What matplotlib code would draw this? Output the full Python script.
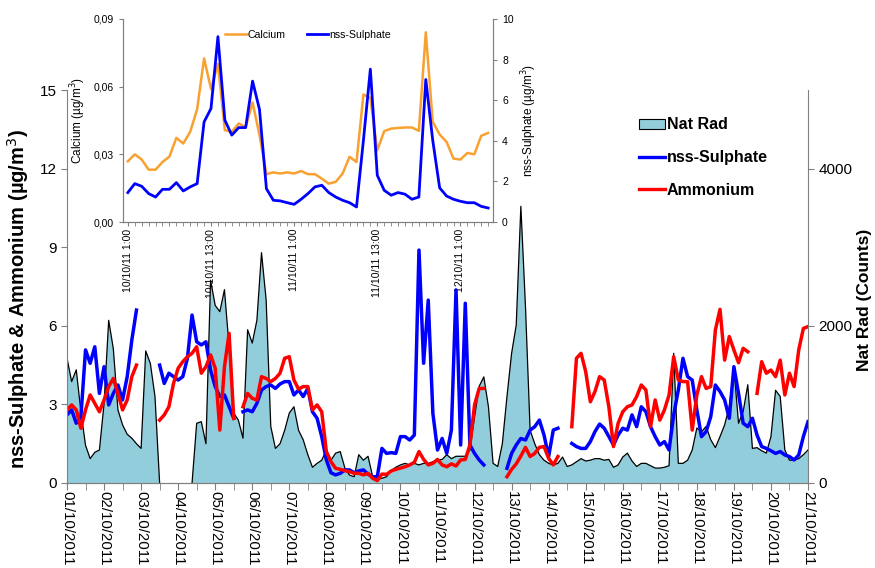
import numpy as np
import matplotlib
matplotlib.use("Agg")
from matplotlib import pyplot as plt
from matplotlib.patches import Patch
from matplotlib.lines import Line2D
from matplotlib.ticker import FuncFormatter, MultipleLocator

plt.rcParams['font.family'] = ['Liberation Sans', 'DejaVu Sans']

nan = np.nan

# 3-hourly values, 01/10/2011 00:00 -> 21/10/2011 00:00
nat_rad = [1590, 1290, 1440, 910, 480, 310, 390, 420, 1010, 2070,
           1710, 930, 740, 620, 570, 500, 440, 1680, 1520, 1100,
           0, nan, nan, nan, nan, nan, nan, 0, 760, 780,
           500, 2580, 2260, 2180, 2460, 1730, 890, 800, 570, 1950,
           1780, 2070, 2930, 2330, 720, 440, 500, 670, 890, 970,
           670, 550, 360, 200, 250, 290, 420, 290, 380, 400,
           190, 100, 80, 360, 290, 340, 80, 50, 60, 80,
           160, 200, 230, 250, 230, 250, 230, 250, 250, 270,
           290, 300, 360, 310, 340, 340, 340, 420, 840, 1230,
           1350, 970, 250, 210, 500, 1100, 1650, 2010, 3520, 2240,
           670, 500, 360, 290, 250, 230, 250, 330, 210, 230,
           270, 310, 280, 290, 310, 310, 290, 300, 200, 230,
           330, 380, 280, 210, 250, 250, 220, 190, 190, 200,
           220, 1650, 250, 250, 290, 420, 700, 650, 720, 550,
           450, 590, 740, 970, 1460, 760, 910, 1250, 440, 450,
           410, 380, 590, 1180, 1100, 420, 290, 290, 310, 360,
           420]

sulphate = [2.60, 2.79, 2.28, 2.53, 5.08, 4.57, 5.20, 3.42, 4.44, 2.98,
            3.42, 3.74, 3.17, 4.06, 5.46, 6.60, nan, nan, nan, nan,
            4.50, 3.80, 4.19, 4.06, 3.93, 4.06, 4.76, 6.41, 5.39, 5.27,
            5.39, 4.31, 3.68, 3.30, 3.36, 2.91, 2.47, nan, 2.72, 2.79,
            2.72, 3.04, 3.55, 3.68, 3.74, 3.61, 3.78, 3.87, 3.87, 3.36,
            3.55, 3.30, 3.61, 2.72, 2.47, 1.77, 0.88, 0.39, 0.31, 0.37,
            0.50, 0.50, 0.39, 0.46, 0.50, 0.34, 0.24, 0.24, 1.32, 1.13,
            1.16, 1.13, 1.77, 1.77, 1.64, 1.83, 8.89, 4.57, 6.98, 2.66,
            1.26, 1.70, 1.13, 2.02, 7.37, 1.45, 6.86, 1.45, 1.13, 0.88,
            0.69, nan, nan, nan, nan, 0.56, 1.13, 1.45, 1.70, 1.64,
            2.02, 2.15, 2.40, 1.83, 1.01, 2.02, 2.09, nan, nan, 1.51,
            1.39, 1.32, 1.32, 1.58, 1.96, 2.25, 2.09, 1.77, 1.45, 1.83,
            2.09, 2.02, 2.60, 2.15, 2.91, 2.72, 2.15, 1.77, 1.45, 1.58,
            1.26, 2.60, 3.55, 4.76, 4.06, 3.93, 2.79, 1.77, 1.96, 2.53,
            3.74, 3.49, 3.17, 2.47, 4.44, 3.42, 2.28, 2.15, 2.47, 1.83,
            1.39, 1.32, 1.23, 1.13, 1.20, 1.07, 1.01, 0.88, 1.07, 1.77,
            2.34]

ammonium = [2.79, 2.98, 2.79, 2.09, 2.79, 3.36, 3.04, 2.72, 3.17, 3.68,
            3.99, 3.42, 2.79, 3.17, 4.06, 4.50, nan, nan, nan, nan,
            2.40, 2.60, 2.91, 3.80, 4.38, 4.63, 4.82, 4.95, 5.20, 4.19,
            4.44, 4.89, 4.38, 2.02, 4.44, 5.71, 2.47, nan, 2.91, 3.42,
            3.23, 3.17, 4.06, 3.99, 3.87, 3.99, 4.19, 4.76, 4.82, 3.93,
            3.58, 3.68, 3.68, 2.79, 2.98, 2.72, 1.20, 0.81, 0.56, 0.52,
            0.47, 0.43, 0.37, 0.37, 0.31, 0.37, 0.18, 0.09, 0.34, 0.33,
            0.46, 0.52, 0.57, 0.62, 0.69, 0.79, 1.20, 0.90, 0.69, 0.75,
            0.90, 0.69, 0.62, 0.73, 0.65, 0.88, 0.90, 1.45, 2.98, 3.61,
            3.61, nan, nan, nan, nan, 0.24, 0.52, 0.73, 1.03, 1.36,
            1.01, 1.13, 1.36, 1.39, 0.94, 0.69, 1.01, nan, nan, 2.15,
            4.76, 4.95, 4.25, 3.10, 3.49, 4.06, 3.93, 2.91, 1.39, 2.28,
            2.72, 2.91, 2.98, 3.30, 3.74, 3.55, 2.15, 3.17, 2.40, 2.79,
            3.36, 4.82, 3.93, 3.87, 3.87, 2.02, 3.36, 4.06, 3.61, 3.68,
            5.84, 6.63, 4.69, 5.59, 5.08, 4.59, 5.14, 5.01, nan, 3.42,
            4.63, 4.19, 4.31, 4.06, 4.69, 3.36, 4.19, 3.68, 5.08, 5.90,
            5.97]

day_labels = ['%02d/10/2011' % d for d in range(1, 22)]

# inset: hourly, 10/10/11 1:00 -> 12/10/11 5:00
calcium = [0.0269, 0.0300, 0.0277, 0.0232, 0.0232, 0.0266, 0.0290, 0.0373, 0.0348, 0.0400,
           0.0500, 0.0725, 0.0590, 0.0700, 0.0407, 0.0400, 0.0437, 0.0420, 0.0530, 0.0385,
           0.0212, 0.0220, 0.0215, 0.0220, 0.0215, 0.0226, 0.0212, 0.0212, 0.0192, 0.0170,
           0.0178, 0.0215, 0.0289, 0.0266, 0.0565, 0.0550, 0.0318, 0.0403, 0.0414, 0.0417,
           0.0419, 0.0419, 0.0404, 0.0841, 0.0444, 0.0388, 0.0355, 0.0281, 0.0277, 0.0306,
           0.0300, 0.0382, 0.0395]
inset_sulphate = [1.45, 1.89, 1.76, 1.40, 1.23, 1.61, 1.61, 1.94, 1.53, 1.73,
                  1.89, 4.93, 5.59, 9.13, 5.02, 4.28, 4.65, 4.65, 6.94, 5.54,
                  1.64, 1.07, 1.04, 0.95, 0.87, 1.12, 1.40, 1.73, 1.81, 1.45,
                  1.23, 1.07, 0.95, 0.74, 4.03, 7.53, 2.30, 1.56, 1.32, 1.45,
                  1.37, 1.12, 1.23, 7.02, 4.03, 1.68, 1.28, 1.12, 1.02, 0.95,
                  0.95, 0.77, 0.69]
inset_labels = ['10/10/11 1:00', '10/10/11 13:00', '11/10/11 1:00',
                '11/10/11 13:00', '12/10/11 1:00']

t = np.arange(len(nat_rad)) * 3 / 24.0
hours = np.arange(len(calcium))

fill_col = '#92CDDC'
orange = '#F9A130'
axis_col = '#808080'

fig = plt.figure(figsize=(8.75, 5.68), dpi=100)
rect = [67/875, 1-483/568, 741/875, 393/568]
ax = fig.add_axes(rect)
ax2 = ax.twinx()
ax.set_zorder(3)
ax2.set_zorder(2)
ax.patch.set_visible(False)
ax2.patch.set_visible(False)

# Nat Rad area on right axis
ax2.fill_between(t, nat_rad, color=fill_col, lw=0)
ax2.plot(t, nat_rad, color='black', lw=0.9)
ax2.set_ylim(0, 5000)
ax2.set_yticks([0, 2000, 4000])

ax.plot(t, sulphate, color='#0000FF', lw=2.5)
ax.plot(t, ammonium, color='#FF0000', lw=2.5)
ax.set_ylim(0, 15)
ax.set_yticks(np.arange(0, 16, 3))
ax.set_xlim(0, 20)
ax.set_xticks(np.arange(21))
ax.set_xticklabels(day_labels, rotation=-90, ha='center', va='top')
ax.xaxis.set_minor_locator(MultipleLocator(0.5))

for a in (ax, ax2):
    a.spines['top'].set_visible(False)
    for s in a.spines.values():
        s.set_color(axis_col)
ax.spines['right'].set_visible(False)
ax2.spines['left'].set_visible(False)
ax.tick_params(axis='x', which='both', direction='out', length=5, color=axis_col,
               labelsize=10.8, pad=1)
ax.tick_params(axis='y', direction='out', length=4, color=axis_col, labelsize=11)
ax2.tick_params(axis='y', direction='out', length=4, color=axis_col, labelsize=11)

ax.set_ylabel('nss-Sulphate & Ammonium (µg/m$^3$)', fontsize=14.5, fontweight='bold')
ax.yaxis.set_label_coords(-0.0486, 0.468)
ax2.set_ylabel('Nat Rad (Counts)', fontsize=12.5, fontweight='bold')
ax2.yaxis.set_label_coords(1.066, 0.467)

handles = [Patch(facecolor=fill_col, edgecolor='black', lw=0.8),
           Line2D([], [], color='#0000FF', lw=2.4),
           Line2D([], [], color='#FF0000', lw=2.4)]
ax.legend(handles, ['Nat Rad', 'nss-Sulphate', 'Ammonium'], loc='upper left',
          bbox_to_anchor=(625/875, 1-103/568), bbox_transform=fig.transFigure,
          frameon=False, prop={'weight': 'bold', 'size': 11.5}, labelspacing=1.1,
          handlelength=1.6, handletextpad=0.1, handleheight=0.55)

# inset
axi = fig.add_axes([123/875, 1-222/568, 370/875, 203/568])
axi.set_zorder(1)
axi.patch.set_visible(False)
axi2 = axi.twinx()
axi2.set_zorder(1)
axi.plot(hours, calcium, color=orange, lw=1.8, label='Calcium')
axi2.plot(hours, inset_sulphate, color='#0000FF', lw=2.0, label='nss-Sulphate')
axi.set_xlim(-0.7, 52.7)
axi.set_ylim(0, 0.09)
axi.set_yticks([0, 0.03, 0.06, 0.09])
axi.yaxis.set_major_formatter(FuncFormatter(lambda v, p: ('%.2f' % v).replace('.', ',')))
axi2.set_ylim(0, 10)
axi2.set_yticks(np.arange(0, 11, 2))
axi.set_xticks(np.arange(0, 49, 12))
axi.set_xticklabels(inset_labels, rotation=90, ha='center', va='top')
axi.xaxis.set_minor_locator(MultipleLocator(1))
for a in (axi, axi2):
    a.spines['top'].set_visible(False)
    for s in a.spines.values():
        s.set_color(axis_col)
    a.tick_params(which='both', direction='out', color=axis_col, labelsize=7.5, length=3)
axi.tick_params(axis='x', pad=2)
axi.set_ylabel('Calcium (µg/m$^3$)', fontsize=8.5)
axi2.set_ylabel('nss-Sulphate (µg/m$^3$)', fontsize=8.5)
hi = [Line2D([], [], color=orange, lw=1.8), Line2D([], [], color='#0000FF', lw=2.0)]
axi.legend(hi, ['Calcium', 'nss-Sulphate'], loc='upper center', ncol=2, frameon=False,
           fontsize=7.6, handlelength=2.0, handletextpad=0.1, columnspacing=2.0,
           bbox_to_anchor=(0.5, 0.995))

fig.savefig('out.png', dpi=100)
